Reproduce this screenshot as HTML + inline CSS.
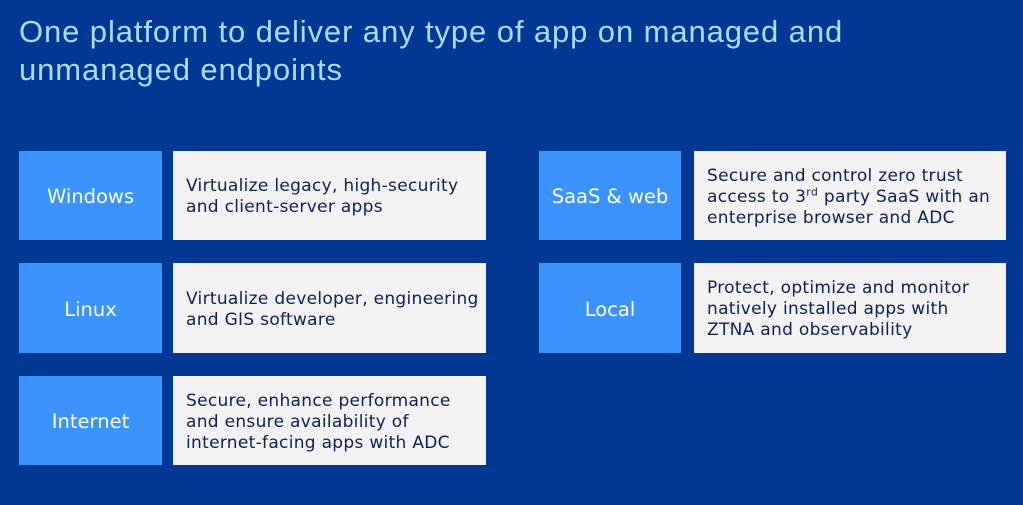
<!DOCTYPE html>
<html><head><meta charset="utf-8"><style>
html,body{margin:0;padding:0}
body{width:1023px;height:505px;background:#013894;position:relative;overflow:hidden;font-family:"DejaVu Sans","Liberation Sans",sans-serif}
.t{position:absolute;left:19px;top:13px;color:#a9dcff;font-family:"Liberation Sans",sans-serif;font-size:31px;letter-spacing:0.9px;line-height:38px;white-space:nowrap}
.b{position:absolute;background:#3a93ff;color:#fff;font-size:19.5px;display:flex;align-items:center;justify-content:center;padding-top:2px;box-sizing:border-box}
.g{position:absolute;background:#f2f2f2;color:#0b2158;font-size:17px;letter-spacing:0.3px;line-height:21px;display:flex;align-items:center;padding-left:13px;padding-top:3px;box-sizing:border-box;white-space:nowrap}
sup{font-size:11px;line-height:0}
</style></head><body>
<div class="t">One platform to deliver any type of app on managed and<br>unmanaged endpoints</div>
<div class="b" style="left:19px;top:151px;width:143px;height:89px">Windows</div>
<div class="g" style="left:173px;top:151px;width:313px;height:89px"><div>Virtualize legacy, high-security<br>and client-server apps</div></div>
<div class="b" style="left:19px;top:263px;width:143px;height:90px">Linux</div>
<div class="g" style="left:173px;top:263px;width:313px;height:90px"><div>Virtualize developer, engineering<br>and GIS software</div></div>
<div class="b" style="left:19px;top:376px;width:143px;height:89px">Internet</div>
<div class="g" style="left:173px;top:376px;width:313px;height:89px"><div>Secure, enhance performance<br>and ensure availability of<br>internet-facing apps with ADC</div></div>
<div class="b" style="left:539px;top:151px;width:142px;height:89px">SaaS &amp; web</div>
<div class="g" style="left:694px;top:151px;width:312px;height:89px"><div>Secure and control zero trust<br>access to 3<sup>rd</sup> party SaaS with an<br>enterprise browser and ADC</div></div>
<div class="b" style="left:539px;top:263px;width:142px;height:90px">Local</div>
<div class="g" style="left:694px;top:263px;width:312px;height:90px"><div>Protect, optimize and monitor<br>natively installed apps with<br>ZTNA and observability</div></div>
</body></html>
